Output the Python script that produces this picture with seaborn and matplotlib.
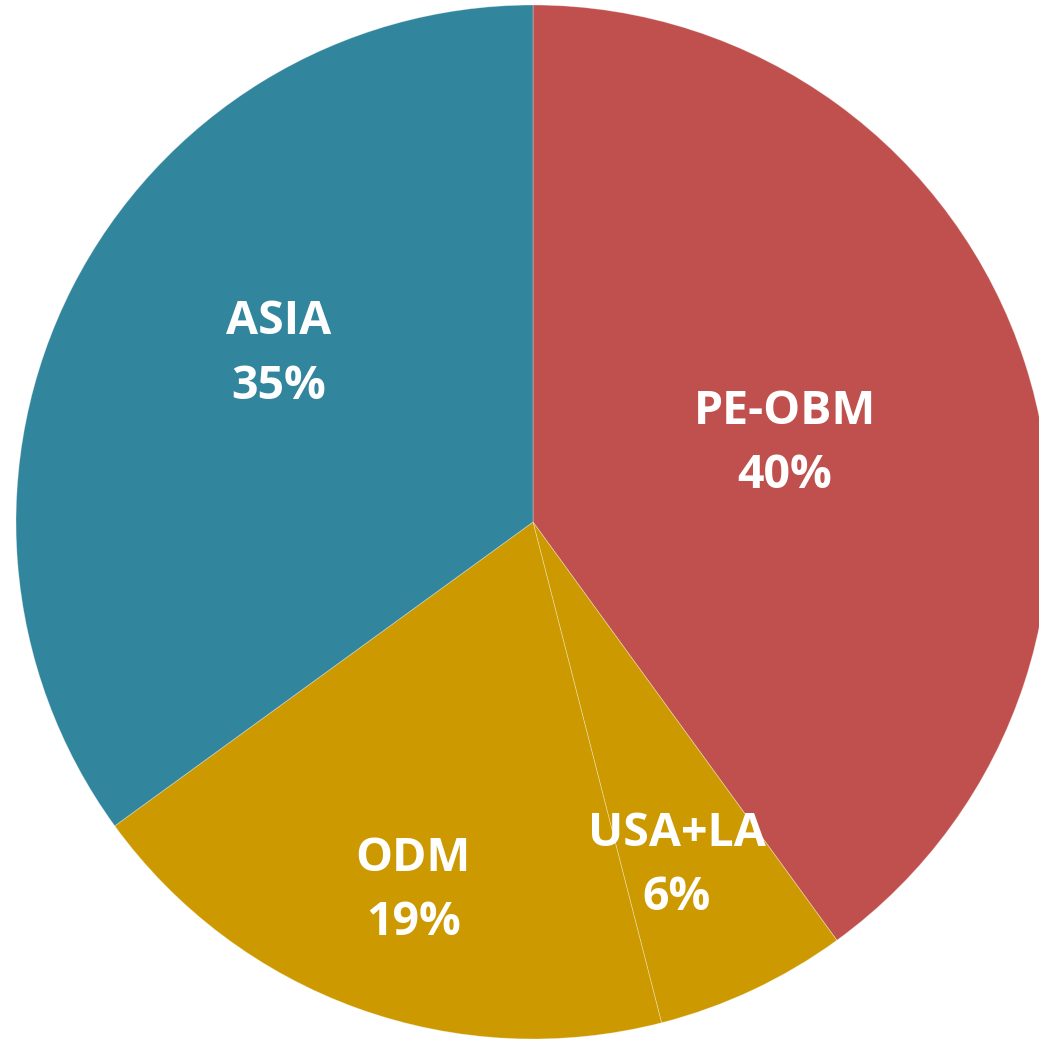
import numpy as np
import seaborn as sns
import matplotlib
matplotlib.use("Agg")
from matplotlib import pyplot as plt

# data, clockwise from 12 o'clock
labels = ["PE-OBM", "USA+LA", "ODM", "ASIA"]
shares = [40, 6, 19, 35]
colors = ["#C0504D", "#CC9900", "#CC9900", "#31859C"]

# label radius (fraction of pie radius) and small angular nudge, degrees
label_r = [0.51, 0.72, 0.75, 0.59]
label_nudge = [-0.7, -2.5, 1.8, -6.4]

sns.set_theme(style="white")
plt.rcParams["font.family"] = ["Open Sans", "DejaVu Sans"]

fig = plt.figure(figsize=(10.39, 10.40), dpi=100)
ax = fig.add_axes([0, 0, 1, 1])

wedges, _ = ax.pie(shares, colors=colors, startangle=90, counterclock=False,
                   radius=1.0,
                   wedgeprops=dict(edgecolor=(1, 1, 1, 0.35), linewidth=0.6))

for w, lab, val, r, nudge in zip(wedges, labels, shares, label_r, label_nudge):
    mid = np.deg2rad((w.theta1 + w.theta2) / 2 + nudge)
    ax.text(r * np.cos(mid), r * np.sin(mid), "%s\n%d%%" % (lab, val),
            ha="center", va="center", color="white", fontsize=33.5,
            fontweight="bold", linespacing=1.48)

# pie centre sits at (533, 522) px with radius 517 px
ax.set_xlim(-533 / 517, (1039 - 533) / 517)
ax.set_ylim(-(1040 - 522) / 517, 522 / 517)
ax.set_aspect("auto")
ax.axis("off")

plt.savefig("out.png", dpi=100)
